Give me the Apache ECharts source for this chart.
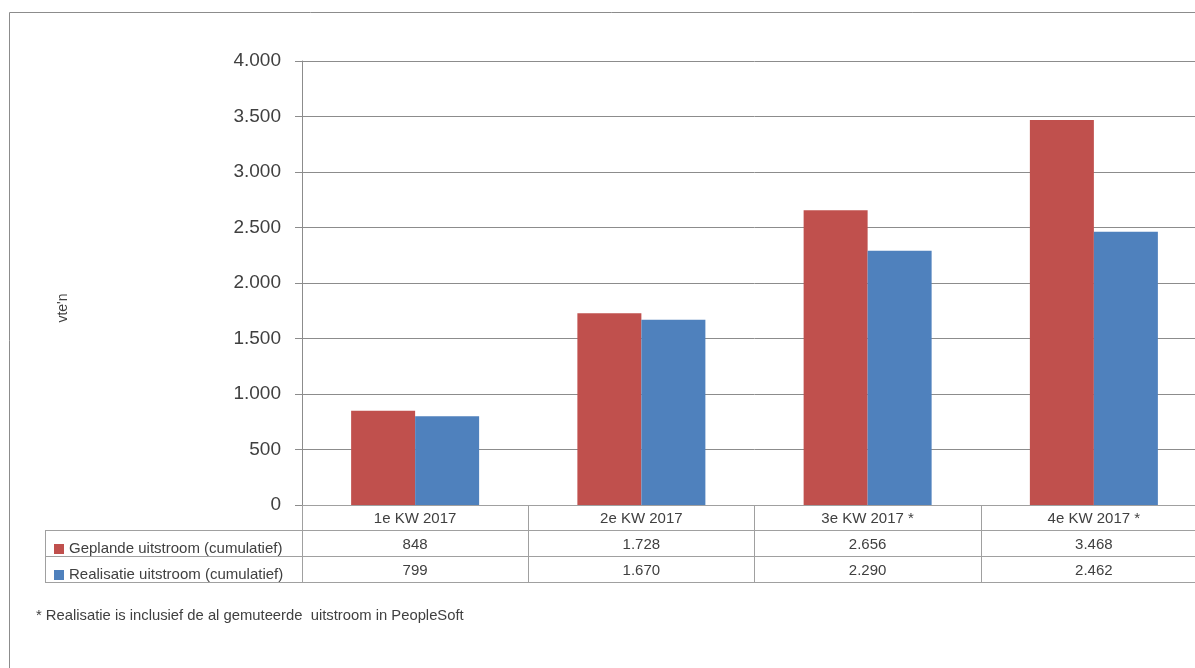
<!DOCTYPE html>
<html>
<head>
<meta charset="utf-8">
<script src="https://cdn.jsdelivr.net/npm/echarts@6/dist/echarts.min.js"></script>
<style>html,body{margin:0;padding:0;background:#fff;overflow:hidden}#c{width:1212px;height:668px}</style>
</head>
<body>
<div id="c"></div>
<script>
const categories = ['1e KW 2017', '2e KW 2017', '3e KW 2017 *', '4e KW 2017 *'];
const seriesNames = ['Geplande uitstroom (cumulatief)', 'Realisatie uitstroom (cumulatief)'];
const gepland = [848, 1728, 2656, 3468];
const realisatie = [799, 1670, 2290, 2462];
const yTicks = [0, 500, 1000, 1500, 2000, 2500, 3000, 3500, 4000];
const yAxisName = "vte'n";
const footnote = '* Realisatie is inclusief de al gemuteerde  uitstroom in PeopleSoft';

const FONT = '"Liberation Sans", Arial, sans-serif';
const TXT = '#404040';
const fmt = v => String(v).replace(/\B(?=(\d{3})+(?!\d))/g, '.');

const chart = echarts.init(document.getElementById('c'));
const gridLine = '#8c8c8c';
const tableLine = '#a0a0a0';
const L = 302, T = 61, B = 505, R = 1207;
const rowH = [25, 26, 26];
const y1 = B + rowH[0], y2 = y1 + rowH[1], y3 = y2 + rowH[2];
const tableLeft = 45;

const graphics = [
  {type: 'rect', shape: {x: 9.5, y: 12.5, width: 1300, height: 800}, style: {fill: 'none', stroke: '#8c8c8c', lineWidth: 1}, silent: true, z: 0},
  {type: 'line', shape: {x1: tableLeft, y1: y1 + 0.5, x2: 1300, y2: y1 + 0.5}, style: {stroke: tableLine, lineWidth: 1}},
  {type: 'line', shape: {x1: tableLeft, y1: y2 + 0.5, x2: 1300, y2: y2 + 0.5}, style: {stroke: tableLine, lineWidth: 1}},
  {type: 'line', shape: {x1: tableLeft, y1: y3 + 0.5, x2: 1300, y2: y3 + 0.5}, style: {stroke: tableLine, lineWidth: 1}},
  {type: 'line', shape: {x1: tableLeft + 0.5, y1: y1, x2: tableLeft + 0.5, y2: y3 + 1}, style: {stroke: tableLine, lineWidth: 1}},
  {type: 'text', x: 63, y: 308, rotation: Math.PI / 2,
   style: {text: yAxisName, font: '14px ' + FONT, fill: TXT, textAlign: 'center', textVerticalAlign: 'middle'}},
  {type: 'text', x: 36, y: 616, style: {text: footnote, font: '14.8px ' + FONT, fill: TXT, textVerticalAlign: 'middle'}}
];

chart.setOption({
  animation: false,
  textStyle: {fontFamily: FONT},
  grid: {left: L, top: T, width: R - L, height: B - T, containLabel: false},
  legend: {
    orient: 'vertical', left: 49, top: 536, itemGap: 10, itemWidth: 10, itemHeight: 10,
    icon: 'rect', selectedMode: false,
    textStyle: {fontSize: 15, lineHeight: 16, color: TXT, fontFamily: FONT},
    data: seriesNames
  },
  xAxis: [
    {
      type: 'category', data: categories, position: 'bottom',
      axisLine: {show: true, lineStyle: {color: tableLine}},
      axisTick: {show: true, length: y3 - B, interval: 0, lineStyle: {color: tableLine}},
      axisLabel: {margin: 6, fontSize: 15, color: TXT, fontFamily: FONT, interval: 0}
    },
    {
      type: 'category', data: categories, position: 'bottom', offset: rowH[0], gridIndex: 0,
      axisLine: {show: false}, axisTick: {show: false},
      axisLabel: {margin: 7, fontSize: 15, color: TXT, fontFamily: FONT, interval: 0, formatter: (v, i) => fmt(gepland[i])}
    },
    {
      type: 'category', data: categories, position: 'bottom', offset: rowH[0] + rowH[1], gridIndex: 0,
      axisLine: {show: false}, axisTick: {show: false},
      axisLabel: {margin: 7, fontSize: 15, color: TXT, fontFamily: FONT, interval: 0, formatter: (v, i) => fmt(realisatie[i])}
    }
  ],
  yAxis: {
    type: 'value', min: yTicks[0], max: yTicks[yTicks.length - 1], interval: yTicks[1] - yTicks[0],
    axisLine: {show: true, lineStyle: {color: gridLine}},
    axisTick: {show: true, length: 7, lineStyle: {color: gridLine}},
    splitLine: {show: true, lineStyle: {color: gridLine}},
    axisLabel: {margin: 21, fontSize: 19, color: TXT, fontFamily: FONT, padding: [3, 0, 0, 0], formatter: v => fmt(v)}
  },
  series: [
    {name: seriesNames[0], type: 'bar', data: gepland, barWidth: 64, barGap: '0%', xAxisIndex: 0,
     itemStyle: {color: '#C0504D'}},
    {name: seriesNames[1], type: 'bar', data: realisatie, barWidth: 64, barGap: '0%', xAxisIndex: 0,
     itemStyle: {color: '#4F81BD'}}
  ],
  graphic: graphics
});
</script>
</body>
</html>
